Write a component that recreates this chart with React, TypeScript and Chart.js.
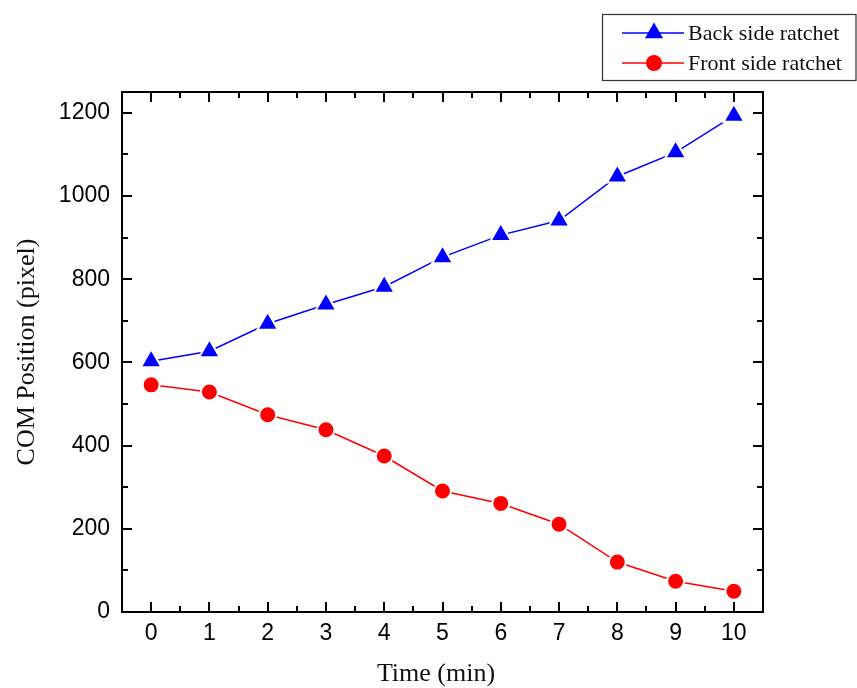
import React, { useEffect, useRef } from "react";
import { Chart, registerables } from "chart.js";

Chart.register(...registerables);

const timeMin = [0, 1, 2, 3, 4, 5, 6, 7, 8, 9, 10];
const backSide = [603, 627, 693, 739, 782, 853, 906, 941, 1047, 1105, 1193];
const frontSide = [546, 529, 474, 438, 375, 291, 261, 211, 120, 74, 50];
const xTicks = [0, 1, 2, 3, 4, 5, 6, 7, 8, 9, 10];
const yTicks = [0, 200, 400, 600, 800, 1000, 1200];
const seriesNames = ["Back side ratchet", "Front side ratchet"];

const W = 857;
const H = 688;

const axesPlugin = {
  id: "originAxes",
  afterDraw(chart: any) {
    const ctx = chart.ctx;
    const { left, right, top, bottom } = chart.chartArea;
    const xs = chart.scales.x;
    const ys = chart.scales.y;
    ctx.save();
    ctx.strokeStyle = "#000";
    ctx.lineWidth = 2;
    ctx.strokeRect(left, top, right - left, bottom - top);
    const major = 10;
    const minor = 6;
    ctx.lineWidth = 2;
    ctx.beginPath();
    for (let v = -0.5; v <= 10.5; v += 0.5) {
      if (v <= -0.5 || v >= 10.5) continue;
      const px = Math.round(xs.getPixelForValue(v));
      const len = Number.isInteger(v) ? major : minor;
      ctx.moveTo(px, bottom);
      ctx.lineTo(px, bottom - len);
      ctx.moveTo(px, top);
      ctx.lineTo(px, top + len);
    }
    for (let v = 100; v < 1250; v += 100) {
      const py = Math.round(ys.getPixelForValue(v));
      const len = v % 200 === 0 ? major : minor;
      ctx.moveTo(left, py);
      ctx.lineTo(left + len, py);
      ctx.moveTo(right, py);
      ctx.lineTo(right - len, py);
    }
    ctx.stroke();

    ctx.fillStyle = "#000";
    ctx.font = '23px "Liberation Sans", Arial, sans-serif';
    ctx.textAlign = "center";
    ctx.textBaseline = "middle";
    xTicks.forEach((v) => {
      ctx.fillText(String(v), xs.getPixelForValue(v), bottom + 22);
    });
    ctx.textAlign = "right";
    yTicks.forEach((v) => {
      ctx.fillText(String(v), left - 12, ys.getPixelForValue(v));
    });

    ctx.fillStyle = "#111";
    ctx.font = '26px "Liberation Serif", "Times New Roman", serif';
    ctx.textAlign = "center";
    ctx.fillText("Time (min)", 436, bottom + 62);
    ctx.save();
    ctx.translate(27, 352);
    ctx.rotate(-Math.PI / 2);
    ctx.fillText("COM Position (pixel)", 0, 0);
    ctx.restore();

    // legend
    const bx = 602;
    const by = 14;
    ctx.lineWidth = 1.2;
    ctx.strokeStyle = "#333";
    ctx.strokeRect(bx + 0.5, by + 0.5, W - bx - 1.5, 66);
    const rows = [33, 63];
    chart.data.datasets.forEach((ds: any, i: number) => {
      const y = rows[i];
      ctx.strokeStyle = ds.borderColor;
      ctx.lineWidth = 1.5;
      ctx.beginPath();
      ctx.moveTo(622, y);
      ctx.lineTo(684, y);
      ctx.stroke();
      ctx.fillStyle = ds.pointBackgroundColor;
      ctx.beginPath();
      if (ds.pointStyle === "triangle") {
        const r = 10.5;
        ctx.moveTo(654, y - r);
        ctx.lineTo(654 + r * 0.866, y + r * 0.5);
        ctx.lineTo(654 - r * 0.866, y + r * 0.5);
        ctx.closePath();
      } else {
        ctx.arc(654, y, 8, 0, Math.PI * 2);
      }
      ctx.fill();
      ctx.fillStyle = "#111";
      ctx.textAlign = "left";
      ctx.font = '22px "Liberation Serif", "Times New Roman", serif';
      ctx.fillText(ds.label, 688, y + 1);
    });
    ctx.restore();
  },
};

export default function App() {
  const ref = useRef<HTMLCanvasElement | null>(null);
  useEffect(() => {
    document.body.style.margin = "0";
    const canvas = ref.current;
    if (!canvas) return;
    const chart = new Chart(canvas, {
      type: "line",
      data: {
        datasets: [
          {
            label: seriesNames[0],
            data: timeMin.map((t, i) => ({ x: t, y: backSide[i] })),
            borderColor: "#0000ff",
            backgroundColor: "#0000ff",
            pointBackgroundColor: "#0000ff",
            pointBorderColor: "#ffffff",
            pointBorderWidth: 2,
            pointStyle: "triangle",
            pointRadius: 12,
            borderWidth: 1.5,
            tension: 0,
          },
          {
            label: seriesNames[1],
            data: timeMin.map((t, i) => ({ x: t, y: frontSide[i] })),
            borderColor: "#ff0000",
            backgroundColor: "#ff0000",
            pointBackgroundColor: "#ff0000",
            pointBorderColor: "#ffffff",
            pointBorderWidth: 2,
            pointStyle: "circle",
            pointRadius: 8.5,
            borderWidth: 1.5,
            tension: 0,
          },
        ],
      },
      options: {
        animation: false,
        responsive: false,
        devicePixelRatio: 1,
        layout: { padding: { left: 122, top: 92, right: W - 763, bottom: H - 612 } },
        plugins: { legend: { display: false }, tooltip: { enabled: false } },
        scales: {
          x: { type: "linear", min: -0.5, max: 10.5, display: false },
          y: { type: "linear", min: 0, max: 1250, display: false },
        },
      },
      plugins: [axesPlugin],
    });
    return () => chart.destroy();
  }, []);
  return (
    <div style={{ position: "absolute", left: 0, top: 0, width: W, height: H, background: "#fff" }}>
      <canvas ref={ref} width={W} height={H} style={{ width: W, height: H }} />
    </div>
  );
}
